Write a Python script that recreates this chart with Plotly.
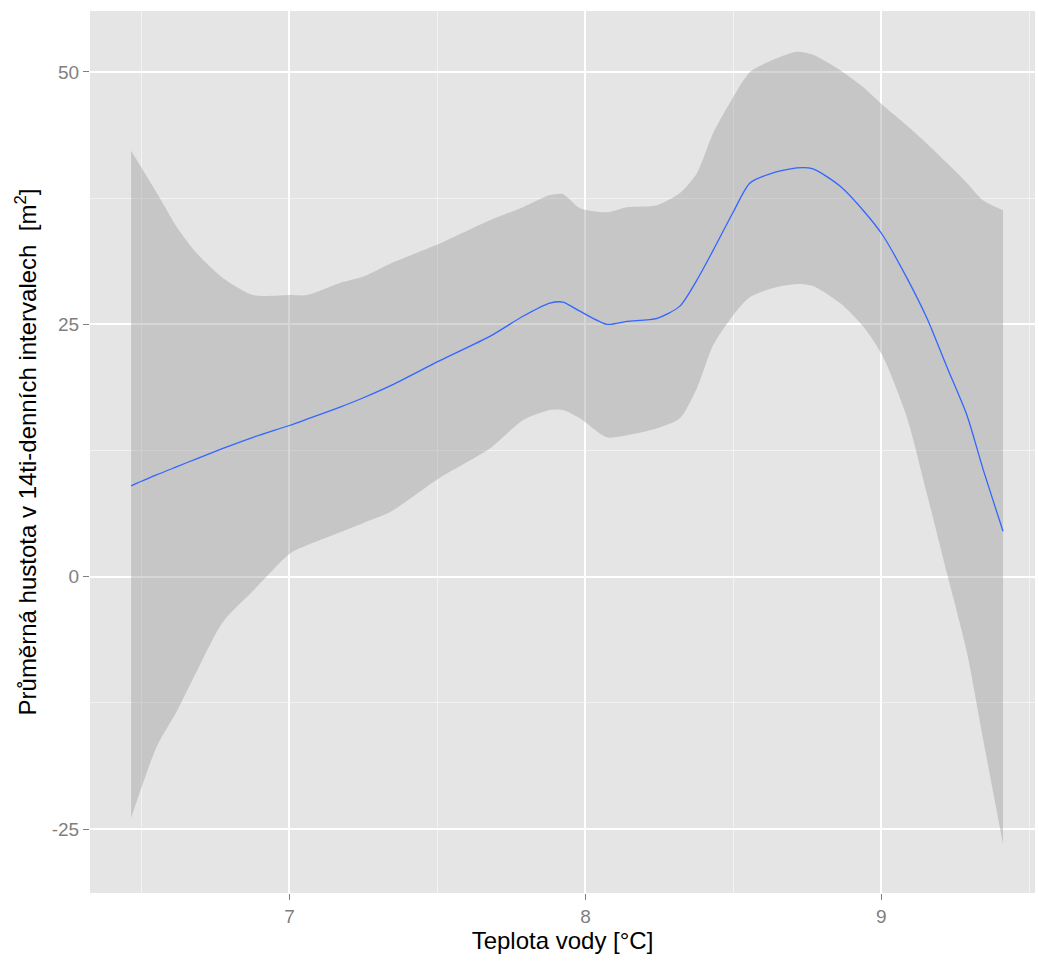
import plotly.graph_objects as go

# Water temperature [°C]
teplota = [6.465, 6.552, 6.620, 6.688, 6.775, 6.877, 7.002, 7.059, 7.171, 7.248,
           7.340, 7.508, 7.677, 7.789, 7.880, 7.924, 7.981, 8.073, 8.140, 8.242,
           8.319, 8.377, 8.431, 8.499, 8.556, 8.634, 8.715, 8.769, 8.860, 8.938,
           9.005, 9.086, 9.154, 9.221, 9.289, 9.343, 9.411]

# Smoothed mean density
prumer = [9.0, 10.1, 10.9, 11.7, 12.7, 13.8, 15.0, 15.6, 16.8, 17.7,
          18.9, 21.4, 23.8, 25.8, 27.1, 27.2, 26.3, 25.0, 25.3, 25.6,
          26.8, 29.4, 32.3, 36.1, 39.0, 40.0, 40.5, 40.4, 38.7, 36.3,
          33.8, 29.6, 25.6, 20.8, 16.0, 10.7, 4.5]

# Confidence band upper limit
horni = [42.2, 38.0, 34.6, 32.0, 29.6, 27.9, 27.9, 27.9, 29.1, 29.7,
         31.0, 33.0, 35.3, 36.6, 37.8, 37.9, 36.5, 36.1, 36.6, 36.8,
         38.0, 40.0, 43.9, 47.5, 50.0, 51.2, 52.0, 51.7, 50.2, 48.5,
         46.7, 44.7, 42.9, 41.0, 39.0, 37.3, 36.3]

# Confidence band lower limit
dolni = [-23.9, -16.8, -13.3, -9.3, -4.5, -1.4, 2.3, 3.1, 4.4, 5.3,
         6.4, 9.8, 12.7, 15.5, 16.5, 16.5, 15.7, 13.8, 14.0, 14.7,
         15.7, 18.7, 22.9, 25.9, 27.7, 28.6, 29.0, 28.8, 27.1, 24.8,
         21.8, 15.8, 8.2, 0.4, -7.5, -16.0, -26.5]

x_ticks = [7, 8, 9]
y_ticks = [-25, 0, 25, 50]

fig = go.Figure()
fig.add_trace(go.Scatter(
    x=teplota, y=dolni, mode="lines",
    line=dict(width=0, shape="spline", smoothing=0.7, color="rgba(0,0,0,0)"),
    hoverinfo="skip", showlegend=False,
))
fig.add_trace(go.Scatter(
    x=teplota, y=horni, mode="lines",
    fill="tonexty", fillcolor="rgba(153,153,153,0.4)",
    line=dict(width=0, shape="spline", smoothing=0.7, color="rgba(0,0,0,0)"),
    hoverinfo="skip", showlegend=False,
))
fig.add_trace(go.Scatter(
    x=teplota, y=prumer, mode="lines",
    line=dict(color="#3366FF", width=1.3, shape="spline", smoothing=0.7),
    showlegend=False,
))

font_family = "Liberation Sans, Arial, sans-serif"

fig.update_layout(
    width=1038, height=969,
    margin=dict(l=90, r=3, t=11, b=76),
    paper_bgcolor="white",
    plot_bgcolor="#E5E5E5",
    font=dict(family=font_family, color="black"),
    xaxis=dict(
        range=[6.326, 9.519],
        tickmode="array", tickvals=x_ticks, ticktext=[str(v) for v in x_ticks],
        showgrid=True, gridcolor="white", gridwidth=1.6,
        minor=dict(tickmode="array", tickvals=[6.5, 7.5, 8.5, 9.5],
                   showgrid=True, gridcolor="#F3F3F3", gridwidth=0.9, ticklen=0),
        ticks="outside", ticklen=6, tickcolor="#7F7F7F", tickwidth=1,
        tickfont=dict(size=19, color="#7F7F7F", family=font_family),
        zeroline=False, showline=False,
        title=dict(text="Teplota vody [°C]", font=dict(size=24, color="black"), standoff=6),
    ),
    yaxis=dict(
        range=[-31.34, 56.04],
        tickmode="array", tickvals=y_ticks, ticktext=[str(v) for v in y_ticks],
        showgrid=True, gridcolor="white", gridwidth=1.6,
        minor=dict(tickmode="array", tickvals=[-12.5, 12.5, 37.5],
                   showgrid=True, gridcolor="#F3F3F3", gridwidth=0.9, ticklen=0),
        ticks="outside", ticklen=6, tickcolor="#7F7F7F", tickwidth=1,
        tickfont=dict(size=19, color="#7F7F7F", family=font_family),
        zeroline=False, showline=False,
        title=dict(text="Průměrná hustota v 14ti-denních intervalech &nbsp;[m<sup>2</sup>]",
                   font=dict(size=24, color="black"), standoff=8),
    ),
)

fig.write_html("out.html")
